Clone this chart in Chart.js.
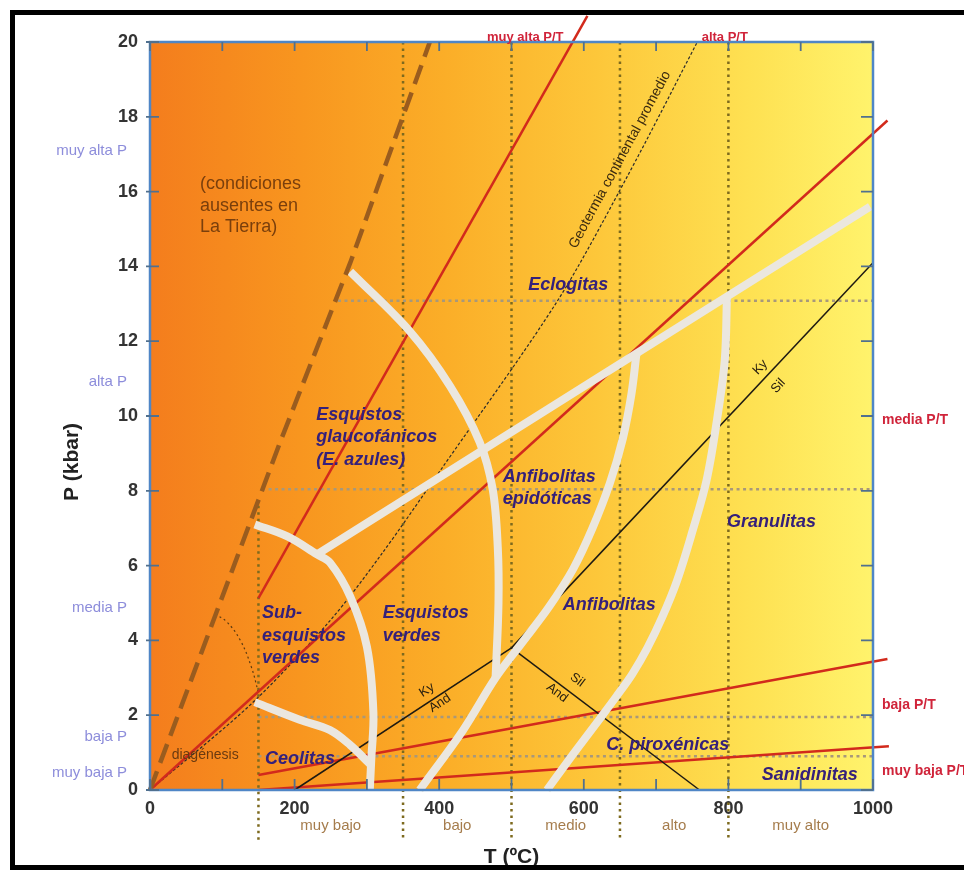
<!DOCTYPE html>
<html lang="es">
<head>
<meta charset="utf-8">
<title>Facies metamórficas</title>
<script src="https://cdn.jsdelivr.net/npm/chart.js@4.4.1/dist/chart.umd.min.js"></script>
<style>
  html, body { margin: 0; padding: 0; background: #fff; }
  #wrap { position: relative; width: 964px; height: 884px; }
</style>
</head>
<body>
<div id="wrap"><canvas id="facies"></canvas></div>
<script>
// Ejes: T en ºC, P en kbar
const tempTicks = [0, 200, 400, 600, 800, 1000];
const presTicks = [0, 2, 4, 6, 8, 10, 12, 14, 16, 18, 20];

// Límite de condiciones ausentes en la Tierra (línea discontinua)
const limiteT = [0, 180, 277, 387];
const limiteP = [0, 9.3, 14.1, 20];

// Gradientes P/T (rojo)
const muyAltaT = [150, 605];
const muyAltaP = [5.13, 20.7];
const mediaT = [0, 1020];
const mediaP = [0, 17.9];
const bajaT = [150, 1020];
const bajaP = [0.4, 3.5];
const muyBajaT = [150, 1022];
const muyBajaP = [0, 1.17];

// Geoterma continental promedio
const geoT = [0, 140, 250, 320, 400, 563, 660, 757];
const geoP = [0, 2.3, 4.55, 6.3, 8.5, 13.06, 16.4, 20];

// Aluminosilicatos
const kyAndT = [200, 500];
const kyAndP = [0, 3.8];
const kySilT = [500, 1000];
const kySilP = [3.8, 14.1];
const andSilT = [500, 760];
const andSilP = [3.8, 0];

// Límites de facies (blanco)
const arcoT = [277, 360, 415, 456, 474, 481, 482, 478];
const arcoP = [13.86, 12.25, 10.8, 9.3, 8.04, 6.5, 5.0, 3.0];
const anfT = [673, 666, 654, 636, 612, 585, 552, 515, 478, 433, 373];
const anfP = [11.7, 10.6, 9.4, 8.2, 7.0, 5.9, 4.9, 3.95, 3.0, 1.6, 0];
const eclT = [231, 996];
const eclP = [6.3, 15.6];
const granT = [798, 795, 785, 770, 750, 729, 708, 688, 667, 645, 620, 585, 549];
const granP = [13.2, 11.5, 10, 8.3, 6.9, 5.6, 4.6, 3.8, 3.1, 2.5, 1.85, 0.95, 0];
const subT = [145, 190, 231, 249, 277, 300, 309, 306, 304];
const subP = [7.1, 6.78, 6.3, 6.08, 5.17, 3.83, 2.06, 0.8, 0];
const ceoT = [145, 207, 249, 277, 304];
const ceoP = [2.35, 1.88, 1.6, 1.2, 0.7];

// Diagénesis (arco punteado)
const diagT = [90, 106, 125, 140, 150];
const diagP = [4.7, 4.5, 4.0, 3.3, 2.6];

// Líneas punteadas de referencia
const claseT = [150, 350, 500, 650, 800];
const claseTopeP = [7.6, 20, 20, 20, 20];
const nivelP = [13.08, 8.04, 1.95, 0.9];
const nivelIniT = [260, 155, 150, 150];

const fam = "'Liberation Sans', Arial, sans-serif";
Chart.defaults.font.family = fam;

function puntos(ts, ps) {
  return ts.map((t, i) => ({ x: t, y: ps[i] }));
}

function linea(label, ts, ps, estilo) {
  return Object.assign({
    label: label,
    data: puntos(ts, ps),
    pointRadius: 0,
    fill: false,
    clip: false,
    tension: 0
  }, estilo);
}

const rojo = { borderColor: '#d22a1c', borderWidth: 2.5, order: 6 };
const negro = { borderColor: '#1e1a12', borderWidth: 1.5, order: 5 };
const blanco = { borderColor: '#ebe7df', borderWidth: 8, tension: 0.35, order: 3 };

const datasets = [
  ...claseT.map((t, i) => linea('clase ' + t, [t, t], [claseTopeP[i], -1.35],
    { borderColor: '#7d6a1e', borderWidth: 2.5, borderDash: [2.5, 4], order: 9 })),
  ...nivelP.map((p, i) => linea('nivel ' + p, [nivelIniT[i], 1000], [p, p],
    { borderColor: '#a8987a', borderWidth: 2.5, borderDash: [3, 3.5], order: 9 })),
  linea('diagénesis', diagT, diagP, { borderColor: '#5a3a10', borderWidth: 1.2, borderDash: [2, 3], tension: 0.4, order: 8 }),
  linea('geoterma', geoT, geoP, { borderColor: '#2b2b2b', borderWidth: 1.2, borderDash: [3, 2], tension: 0.3, order: 8 }),
  linea('muy alta P/T', muyAltaT, muyAltaP, rojo),
  linea('media P/T', mediaT, mediaP, rojo),
  linea('baja P/T', bajaT, bajaP, rojo),
  linea('muy baja P/T', muyBajaT, muyBajaP, rojo),
  linea('Ky-And', kyAndT, kyAndP, negro),
  linea('Ky-Sil', kySilT, kySilP, negro),
  linea('And-Sil', andSilT, andSilP, negro),
  linea('arco', arcoT, arcoP, blanco),
  linea('anfibolitas', anfT, anfP, blanco),
  linea('eclogitas', eclT, eclP, blanco),
  linea('granulitas', granT, granP, blanco),
  linea('subesquistos', subT, subP, blanco),
  linea('ceolitas', ceoT, ceoP, blanco),
  linea('límite', limiteT, limiteP, { borderColor: '#9a5c1e', borderWidth: 4.5, borderDash: [20, 9], order: 2 })
];

// Rótulos de facies (posición en T, P)
const etiquetasFacies = [
  { txt: ['Eclogitas'], t: 523, p: 13.5 },
  { txt: ['Esquistos', 'glaucofánicos', '(E. azules)'], t: 230, p: 10.03 },
  { txt: ['Anfibolitas', 'epidóticas'], t: 488, p: 8.37 },
  { txt: ['Sub-', 'esquistos', 'verdes'], t: 155, p: 4.73 },
  { txt: ['Esquistos', 'verdes'], t: 322, p: 4.73 },
  { txt: ['Anfibolitas'], t: 571, p: 4.95 },
  { txt: ['Granulitas'], t: 798, p: 7.17 },
  { txt: ['C. piroxénicas'], t: 631, p: 1.2 },
  { txt: ['Sanidinitas'], t: 846, p: 0.4 },
  { txt: ['Ceolitas'], t: 159, p: 0.83 }
];

const clases = ['muy bajo', 'bajo', 'medio', 'alto', 'muy alto'];
const claseCentroT = [250, 425, 575, 725, 900];

const presIzq = ['muy alta P', 'alta P', 'media P', 'baja P', 'muy baja P'];
const presIzqP = [17.1, 10.9, 4.87, 1.42, 0.45];
const ptDer = ['media P/T', 'baja P/T', 'muy baja P/T'];
const ptDerP = [9.9, 2.27, 0.5];
const ptSup = ['muy alta P/T', 'alta P/T'];
const ptSupT = [519, 795];

function texto(ctx, str, x, y, font, color, align, angle) {
  ctx.save();
  ctx.translate(x, y);
  ctx.rotate(angle || 0);
  ctx.font = font;
  ctx.fillStyle = color;
  ctx.textAlign = align || 'left';
  ctx.textBaseline = 'middle';
  ctx.fillText(str, 0, 0);
  ctx.restore();
}

const diagrama = {
  id: 'diagrama',
  beforeDatasetsDraw(chart) {
    const { ctx, chartArea: a } = chart;
    const g = ctx.createLinearGradient(a.left, 0, a.right, 0);
    g.addColorStop(0, '#f47d1d');
    g.addColorStop(0.21, '#f8961f');
    g.addColorStop(0.41, '#fbae28');
    g.addColorStop(0.62, '#fdc73a');
    g.addColorStop(0.83, '#fee152');
    g.addColorStop(1, '#fff36c');
    ctx.save();
    ctx.fillStyle = g;
    ctx.fillRect(a.left, a.top, a.right - a.left, a.bottom - a.top);
    ctx.restore();
  },
  afterDatasetsDraw(chart) {
    const { ctx, chartArea: a, scales: { x, y } } = chart;
    const px = t => x.getPixelForValue(t);
    const py = p => y.getPixelForValue(p);
    const ang = (t1, p1, t2, p2) => Math.atan2(py(p2) - py(p1), px(t2) - px(t1));

    // marco del área y marcas hacia dentro
    ctx.save();
    ctx.strokeStyle = '#4f86c6';
    ctx.lineWidth = 2.5;
    ctx.strokeRect(a.left, a.top, a.right - a.left, a.bottom - a.top);
    ctx.strokeStyle = '#50708f';
    ctx.lineWidth = 1.8;
    ctx.beginPath();
    x.ticks.forEach(tk => {
      const xx = px(tk.value);
      ctx.moveTo(xx, a.bottom); ctx.lineTo(xx, a.bottom - 11);
      ctx.moveTo(xx, a.top); ctx.lineTo(xx, a.top + 9);
    });
    y.ticks.forEach(tk => {
      const yy = py(tk.value);
      ctx.moveTo(a.left - 4, yy); ctx.lineTo(a.left + 9, yy);
      ctx.moveTo(a.right - 12, yy); ctx.lineTo(a.right, yy);
    });
    ctx.stroke();
    ctx.restore();

    // rótulos de facies
    const fFac = 'italic bold 18px ' + fam;
    etiquetasFacies.forEach(e => {
      e.txt.forEach((s, i) => texto(ctx, s, px(e.t), py(e.p) + i * 22.5, fFac, '#35207a'));
    });

    const cond = ['(condiciones', 'ausentes en', 'La Tierra)'];
    cond.forEach((s, i) => texto(ctx, s, px(69), py(16.2) + i * 21.5, '18px ' + fam, '#7a3f0c'));
    texto(ctx, 'diagénesis', px(30), py(0.94), '14px ' + fam, '#6a3a10');

    // aluminosilicatos y geoterma
    const fMin = '13px ' + fam;
    const aKS = ang(kySilT[0], kySilP[0], kySilT[1], kySilP[1]);
    texto(ctx, 'Ky', px(844), py(11.3), fMin, '#2a2010', 'center', aKS);
    texto(ctx, 'Sil', px(869), py(10.8), fMin, '#2a2010', 'center', aKS);
    const aKA = ang(kyAndT[0], kyAndP[0], kyAndT[1], kyAndP[1]);
    texto(ctx, 'Ky', px(383), py(2.67), fMin, '#2a2010', 'center', aKA);
    texto(ctx, 'And', px(401), py(2.32), fMin, '#2a2010', 'center', aKA);
    const aAS = ang(andSilT[0], andSilP[0], andSilT[1], andSilP[1]);
    texto(ctx, 'Sil', px(591), py(2.94), fMin, '#2a2010', 'center', aAS);
    texto(ctx, 'And', px(563), py(2.6), fMin, '#2a2010', 'center', aAS);
    texto(ctx, 'Geotermia continental promedio', px(650), py(16.85), '14px ' + fam, '#3a2a10', 'center',
      ang(geoT[5], geoP[5], geoT[7], geoP[7]));

    // rótulos de los márgenes
    presIzq.forEach((s, i) => texto(ctx, s, 127, py(presIzqP[i]), '15px ' + fam, '#8d8ddb', 'right'));
    ptDer.forEach((s, i) => texto(ctx, s, 882, py(ptDerP[i]), 'bold 14px ' + fam, '#d0243a', 'left'));
    ptSup.forEach((s, i) => texto(ctx, s, px(ptSupT[i]), 37, 'bold 13px ' + fam, '#d0243a', 'center'));
    clases.forEach((s, i) => texto(ctx, s, px(claseCentroT[i]), 826, '15px ' + fam, '#a57c4c', 'center'));

    texto(ctx, 'P (kbar)', 72, 462, 'bold 21px ' + fam, '#222', 'center', -Math.PI / 2);
  },
  afterDraw(chart) {
    const ctx = chart.ctx;
    ctx.save();
    ctx.strokeStyle = '#000';
    ctx.lineWidth = 5;
    ctx.strokeRect(12.5, 12.5, 965, 855);
    ctx.restore();
  }
};

new Chart(document.getElementById('facies'), {
  type: 'line',
  data: { datasets: datasets },
  options: {
    responsive: true,
    maintainAspectRatio: false,
    animation: false,
    layout: { padding: { top: 42, right: 91, left: 0, bottom: 0 } },
    plugins: {
      legend: { display: false },
      tooltip: { enabled: false }
    },
    elements: { line: { borderCapStyle: 'butt', borderJoinStyle: 'round' } },
    scales: {
      x: {
        type: 'linear',
        min: 0,
        max: 1000,
        grid: { display: false, drawTicks: false },
        border: { display: false },
        ticks: {
          stepSize: 100,
          autoSkip: false,
          maxRotation: 0,
          padding: 8,
          color: '#333',
          font: { size: 18, weight: 'bold' },
          callback: v => tempTicks.includes(v) ? String(v) : ''
        },
        title: {
          display: true,
          text: 'T (ºC)',
          color: '#222',
          font: { size: 21, weight: 'bold' },
          padding: { top: 0, bottom: 14 }
        },
        afterFit: s => { s.height = 94; }
      },
      y: {
        type: 'linear',
        min: 0,
        max: 20,
        grid: { display: false, drawTicks: false },
        border: { display: false },
        ticks: {
          stepSize: 2,
          padding: 12,
          color: '#333',
          font: { size: 18, weight: 'bold' },
          callback: v => presTicks.includes(v) ? String(v) : ''
        },
        afterFit: s => { s.width = 150; }
      }
    }
  },
  plugins: [diagrama]
});
</script>
</body>
</html>
